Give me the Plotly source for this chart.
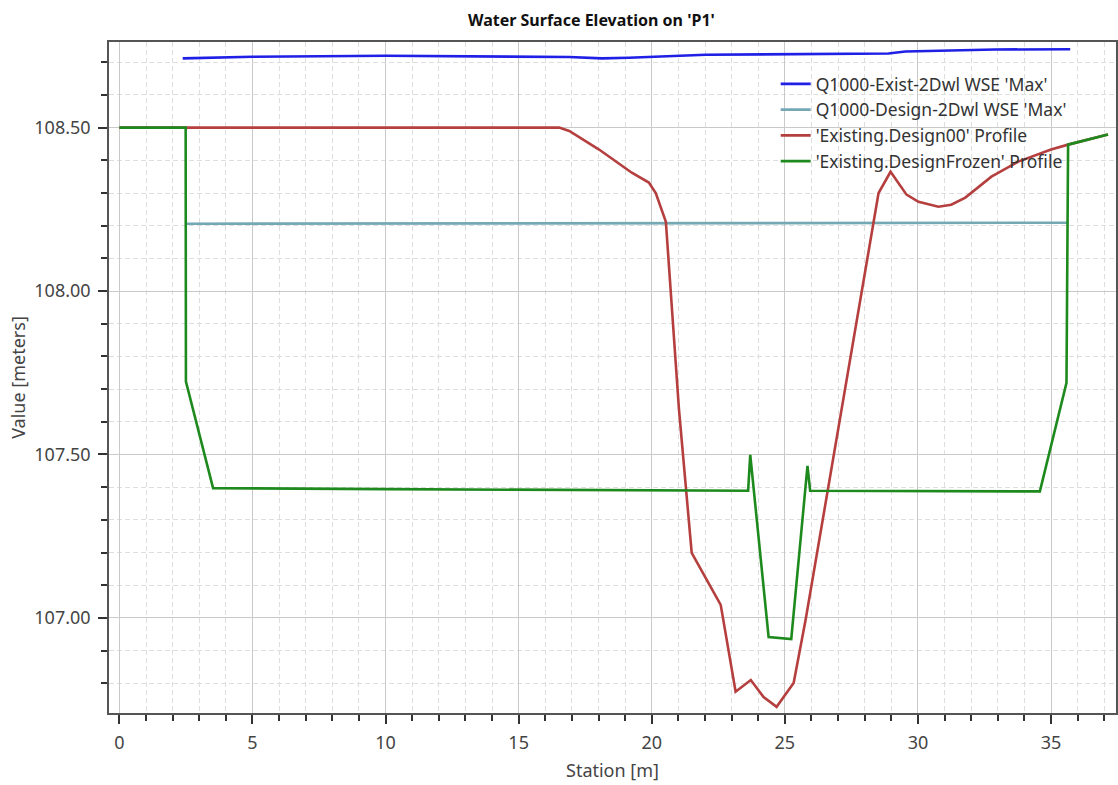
import plotly.graph_objects as go

# Station (m) / water surface elevation (m) for each profile
exist_wse_x = [2.38, 5.0, 10.03, 14.38, 16.9, 18.13, 19.14, 22.03, 28.89, 29.53, 32.9, 35.72]
exist_wse_y = [108.712, 108.717, 108.720, 108.718, 108.716, 108.712, 108.714, 108.723, 108.727, 108.733, 108.739, 108.740]

design_wse_x = [2.53, 10.0, 20.0, 23.0, 25.0, 30.0, 35.62]
design_wse_y = [108.206, 108.207, 108.207, 108.208, 108.209, 108.208, 108.209]

design00_x = [0.0, 2.5, 16.52, 16.9, 18.02, 19.25, 19.89, 20.15, 20.38, 20.53, 21.02, 21.50,
              22.59, 23.15, 23.72, 24.20, 24.69, 25.33, 25.78, 28.52, 28.97, 29.57, 30.02,
              30.77, 31.25, 31.78, 32.76, 33.77, 35.0, 35.64, 37.14]
design00_y = [108.5, 108.5, 108.5, 108.49, 108.433, 108.362, 108.332, 108.30, 108.249, 108.212,
              107.64, 107.199, 107.040, 106.774, 106.810, 106.758, 106.728, 106.801, 106.994,
              108.300, 108.365, 108.295, 108.273, 108.258, 108.264, 108.286, 108.350, 108.396,
              108.433, 108.448, 108.479]

frozen_x = [0.0, 2.49, 2.50, 3.52, 10.0, 20.0, 23.62, 23.70, 24.39, 25.24, 25.85, 25.95,
            34.58, 35.58, 35.64, 37.14]
frozen_y = [108.5, 108.5, 107.723, 107.397, 107.394, 107.39, 107.389, 107.499, 106.941,
            106.935, 107.465, 107.389, 107.387, 107.719, 108.448, 108.479]

series_names = [
    "Q1000-Exist-2Dwl WSE 'Max'",
    "Q1000-Design-2Dwl WSE 'Max'",
    "'Existing.Design00' Profile",
    "'Existing.DesignFrozen' Profile",
]
series_colors = ["#1f1fe6", "#74a9b4", "#b53f3f", "#1e8a1e"]

x_ticks = [0, 5, 10, 15, 20, 25, 30, 35]
y_ticks = [107.0, 107.5, 108.0, 108.5]

FONT = "Noto Sans"

fig = go.Figure()
for xs, ys, name, color in zip(
    [exist_wse_x, design_wse_x, design00_x, frozen_x],
    [exist_wse_y, design_wse_y, design00_y, frozen_y],
    series_names,
    series_colors,
):
    fig.add_trace(go.Scatter(x=xs, y=ys, mode="lines", name=name,
                             line=dict(color=color, width=2.6)))

W, H = 1118, 785
L, R, T, B = 109, 0, 42, 72
pw, ph = W - L - R, H - T - B

def px_x(p):
    return (p - L) / pw

def px_y(p):
    return (H - B - p) / ph

fig.update_layout(
    width=W, height=H,
    margin=dict(l=L, r=R, t=T, b=B),
    paper_bgcolor="white",
    plot_bgcolor="white",
    font=dict(family=FONT, size=18, color="#444444"),
    showlegend=True,
    legend=dict(
        x=px_x(777), y=px_y(66), xanchor="left", yanchor="top",
        bgcolor="rgba(0,0,0,0)", font=dict(size=17.5, color="#333333"),
        itemwidth=30, tracegroupgap=0,
    ),
    annotations=[dict(
        text="<b>Water Surface Elevation on 'P1'</b>",
        x=px_x(592), y=px_y(20), xref="paper", yref="paper",
        xanchor="center", yanchor="middle", showarrow=False,
        font=dict(family=FONT, size=16, color="#111111"),
    )],
)

fig.update_xaxes(
    range=[-0.39, 37.44],
    tickvals=x_ticks,
    ticks="outside", ticklen=9, tickwidth=1.5, tickcolor="#333333",
    ticklabelstandoff=4,
    showline=True, linecolor="#555555", linewidth=1.5, mirror=True,
    showgrid=True, gridcolor="#c9c9c9", gridwidth=1,
    zeroline=False,
    minor=dict(dtick=1, tick0=0, ticks="outside", ticklen=6, tickwidth=1.5,
               tickcolor="#333333", showgrid=True, gridcolor="#dedede",
               griddash="5px,3px", gridwidth=1),
    title=dict(text="Station [m]", font=dict(size=18, color="#444444"), standoff=11),
)

fig.update_yaxes(
    range=[106.709, 108.762],
    tickvals=y_ticks, tickformat=".2f",
    ticks="outside", ticklen=9, tickwidth=1.5, tickcolor="#333333",
    ticklabelstandoff=4,
    showline=True, linecolor="#555555", linewidth=1.5, mirror=True,
    showgrid=True, gridcolor="#c9c9c9", gridwidth=1,
    zeroline=False,
    minor=dict(dtick=0.1, tick0=0, ticks="outside", ticklen=6, tickwidth=1.5,
               tickcolor="#333333", showgrid=True, gridcolor="#dedede",
               griddash="5px,3px", gridwidth=1),
    title=dict(text="Value [meters]", font=dict(size=18, color="#444444"), standoff=4),
)

fig.write_html("out.html")
